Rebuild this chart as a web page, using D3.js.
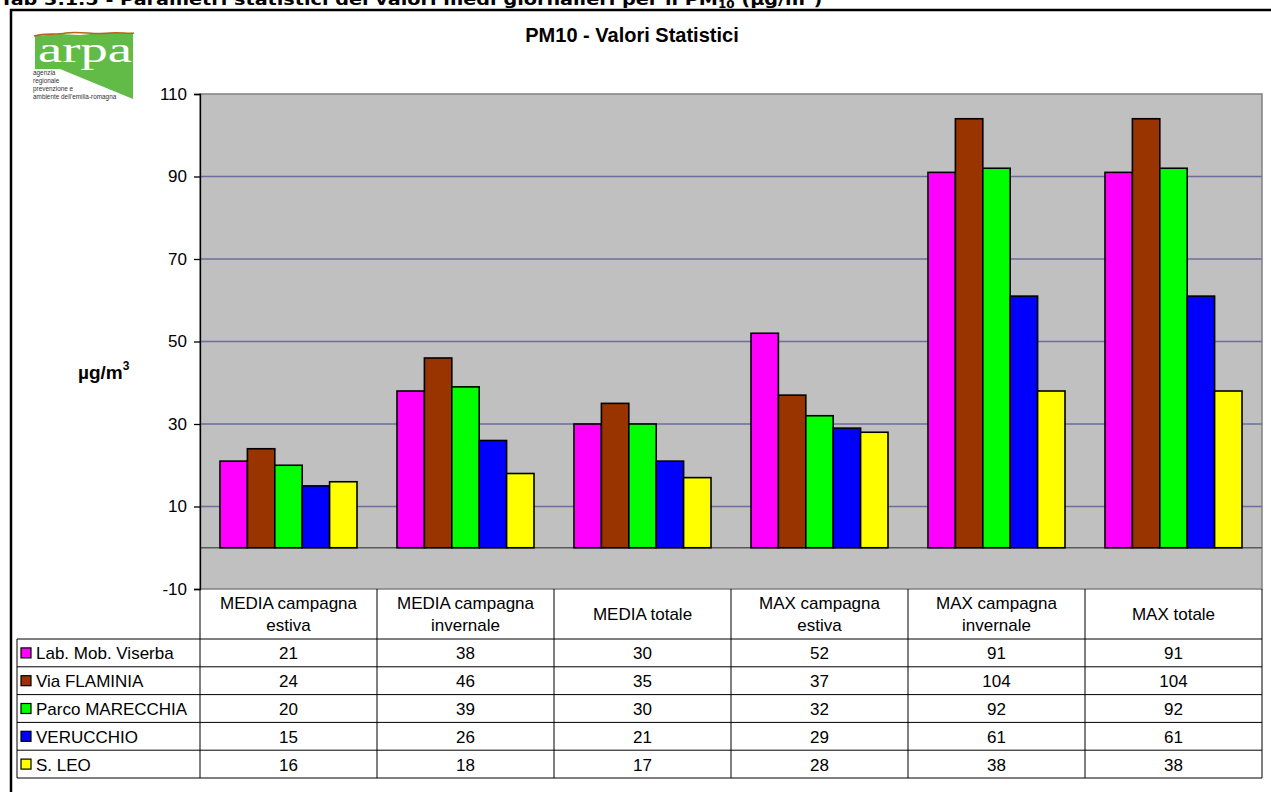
<!DOCTYPE html>
<html>
<head>
<meta charset="utf-8">
<script src="https://cdn.jsdelivr.net/npm/d3@7"></script>
<style>
  html, body { margin: 0; padding: 0; background: #fff; overflow: hidden; }
  svg { display: block; font-family: "Liberation Sans", Arial, sans-serif; }
</style>
</head>
<body>
<svg id="chart" width="1271" height="792"></svg>
<script>
// PM10 statistics per station (µg/m³)
const categories = [
  "MEDIA campagna estiva",
  "MEDIA campagna invernale",
  "MEDIA totale",
  "MAX campagna estiva",
  "MAX campagna invernale",
  "MAX totale"
];
const categoryLines = [
  ["MEDIA campagna", "estiva"],
  ["MEDIA campagna", "invernale"],
  ["MEDIA totale"],
  ["MAX campagna", "estiva"],
  ["MAX campagna", "invernale"],
  ["MAX totale"]
];
const seriesNames = ["Lab. Mob. Viserba", "Via FLAMINIA", "Parco MARECCHIA", "VERUCCHIO", "S. LEO"];
const viserba   = [21, 38, 30, 52, 91, 91];
const flaminia  = [24, 46, 35, 37, 104, 104];
const marecchia = [20, 39, 30, 32, 92, 92];
const verucchio = [15, 26, 21, 29, 61, 61];
const sanLeo    = [16, 18, 17, 28, 38, 38];
const seriesValues = [viserba, flaminia, marecchia, verucchio, sanLeo];
const seriesColors = ["#ff00ff", "#993300", "#00ff00", "#0000ff", "#ffff00"];
const yTicks = [-10, 10, 30, 50, 70, 90, 110];

const svg = d3.select("#chart");
const FS = 17;

// Page heading (partly above the visible area)
const head = svg.append("text")
  .attr("x", 0).attr("y", 5)
  .attr("font-family", "'DejaVu Sans', Verdana, sans-serif")
  .attr("font-weight", "bold").attr("font-size", 16).attr("fill", "#000");
head.append("tspan").text("Tab 3.1.5 - Parametri statistici dei valori medi giornalieri per il PM");
head.append("tspan").attr("font-size", 10).attr("dy", 3).text("10");
head.append("tspan").attr("dy", -3).text(" (µg/m");
head.append("tspan").attr("font-size", 10).attr("dy", -6).text("3");
head.append("tspan").attr("dy", 6).text(")");
const hw = head.node().getComputedTextLength();
head.attr("transform", `scale(${823 / hw},1)`);

// Frame of the chart object
svg.append("path")
  .attr("d", "M11,800 L11,10 L1280,10")
  .attr("fill", "none").attr("stroke", "#000").attr("stroke-width", 2.5);

// ARPA logo
const logo = svg.append("g");
logo.append("path")
  .attr("d", "M35,36 L60,34 L80,35 L100,33 L133,33 L133,99 L60,69 L35,69 Z")
  .attr("fill", "#62bb47");
logo.append("path")
  .attr("d", "M34,36 C45,33 55,35 66,33 C80,31 95,35 110,33 C120,32 128,34 134,33")
  .attr("fill", "none").attr("stroke", "#b5651d").attr("stroke-width", 1.6);
logo.append("text")
  .attr("x", 38).attr("y", 62)
  .attr("font-family", "'Liberation Serif', 'Times New Roman', serif")
  .attr("font-size", 36).attr("fill", "#fff")
  .attr("textLength", 94).attr("lengthAdjust", "spacingAndGlyphs")
  .text("arpa");
const logoLines = ["agenzia", "regionale", "prevenzione e", "ambiente dell'emilia-romagna"];
logo.selectAll("text.small").data(logoLines).join("text")
  .attr("class", "small")
  .attr("x", 33).attr("y", (d, i) => 75 + i * 8)
  .attr("font-size", 6.4).attr("fill", "#333")
  .text(d => d);

// Chart title
svg.append("text")
  .attr("x", 632).attr("y", 42)
  .attr("text-anchor", "middle")
  .attr("font-weight", "bold").attr("font-size", 20)
  .text("PM10 - Valori Statistici");

// Scales
const plot = { left: 200, right: 1262, top: 94, bottom: 589 };
const y = d3.scaleLinear().domain([-10, 110]).range([plot.bottom, plot.top]);
const x0 = d3.scaleBand().domain(categories).range([plot.left, plot.right]).padding(0);
const x1 = d3.scaleBand().domain(seriesNames).range([0, x0.bandwidth()])
  .paddingInner(0).paddingOuter(0.73);

// Plot area
svg.append("rect")
  .attr("x", plot.left).attr("y", plot.top)
  .attr("width", plot.right - plot.left).attr("height", plot.bottom - plot.top)
  .attr("fill", "#c0c0c0").attr("stroke", "#808080").attr("stroke-width", 1.5);

// Gridlines
svg.append("g").selectAll("line")
  .data(yTicks.filter(t => t > -10 && t < 110)).join("line")
  .attr("x1", plot.left).attr("x2", plot.right)
  .attr("y1", d => y(d)).attr("y2", d => y(d))
  .attr("stroke", "#6e6e9e").attr("stroke-width", 1.3);

// Zero line
svg.append("line")
  .attr("x1", plot.left).attr("x2", plot.right)
  .attr("y1", y(0)).attr("y2", y(0))
  .attr("stroke", "#5a5a5a").attr("stroke-width", 1.3);

// Bars
const groups = svg.append("g").selectAll("g")
  .data(seriesNames).join("g")
  .attr("fill", (d, i) => seriesColors[i]);
groups.selectAll("rect")
  .data((name, si) => categories.map((c, ci) => ({ c, name, v: seriesValues[si][ci] })))
  .join("rect")
  .attr("x", d => x0(d.c) + x1(d.name))
  .attr("width", x1.bandwidth())
  .attr("y", d => y(Math.max(0, d.v)))
  .attr("height", d => Math.abs(y(d.v) - y(0)))
  .attr("stroke", "#000").attr("stroke-width", 1.6);

// Y axis
const yAxis = d3.axisLeft(y).tickValues(yTicks).tickSize(6).tickPadding(7)
  .tickFormat(d => String(d));
const ya = svg.append("g").attr("transform", `translate(${plot.left},0)`).call(yAxis);
ya.select(".domain").attr("stroke", "#000").attr("stroke-width", 1.3);
ya.selectAll(".tick line").attr("stroke", "#000").attr("stroke-width", 1.3);
ya.selectAll(".tick text").attr("font-size", FS).attr("fill", "#000")
  .attr("font-family", "'Liberation Sans', Arial, sans-serif");

// Y axis title
const yt = svg.append("text")
  .attr("x", 78).attr("y", 379)
  .attr("font-weight", "bold").attr("font-size", 19);
yt.append("tspan").text("µg/m");
yt.append("tspan").attr("font-size", 12).attr("dy", -9).text("3");

// Data table
const rowTop = 639, rowH = 27.8, tableLeft = 17;
const table = svg.append("g");
const colEdges = categories.map(c => x0(c)).concat([plot.right]);

// Header (category names)
table.selectAll("text.cat").data(categories).join("text")
  .attr("class", "cat")
  .attr("text-anchor", "middle")
  .attr("font-size", FS)
  .each(function (d, i) {
    const lines = categoryLines[i];
    const t = d3.select(this);
    const mid = (plot.bottom + rowTop) / 2;
    lines.forEach((ln, k) => {
      t.append("tspan")
        .attr("x", x0(d) + x0.bandwidth() / 2)
        .attr("y", mid + 6 + (k - (lines.length - 1) / 2) * 22)
        .text(ln);
    });
  });

// Vertical column lines
table.selectAll("line.col").data(colEdges).join("line")
  .attr("class", "col")
  .attr("x1", d => d).attr("x2", d => d)
  .attr("y1", plot.bottom).attr("y2", rowTop + rowH * seriesNames.length)
  .attr("stroke", "#000").attr("stroke-width", 1);

// Left edge of the legend column
table.append("line")
  .attr("x1", tableLeft).attr("x2", tableLeft)
  .attr("y1", rowTop).attr("y2", rowTop + rowH * seriesNames.length)
  .attr("stroke", "#000").attr("stroke-width", 1);

// Horizontal row lines
table.selectAll("line.row").data(d3.range(seriesNames.length + 1)).join("line")
  .attr("class", "row")
  .attr("x1", tableLeft).attr("x2", plot.right)
  .attr("y1", i => rowTop + i * rowH).attr("y2", i => rowTop + i * rowH)
  .attr("stroke", "#000").attr("stroke-width", 1);

// Legend keys and names
const rows = table.selectAll("g.srow").data(seriesNames).join("g")
  .attr("class", "srow")
  .attr("transform", (d, i) => `translate(0,${rowTop + i * rowH})`);
rows.append("rect")
  .attr("x", 21).attr("y", rowH / 2 - 5)
  .attr("width", 10).attr("height", 10)
  .attr("fill", (d, i) => seriesColors[i])
  .attr("stroke", "#000").attr("stroke-width", 1.2);
rows.append("text")
  .attr("x", 36).attr("y", rowH / 2 + 6.5)
  .attr("font-size", FS)
  .text(d => d);

// Values
rows.selectAll("text.val")
  .data((name, si) => categories.map((c, ci) => ({ c, v: seriesValues[si][ci] })))
  .join("text")
  .attr("class", "val")
  .attr("text-anchor", "middle")
  .attr("font-size", FS)
  .attr("x", d => x0(d.c) + x0.bandwidth() / 2)
  .attr("y", rowH / 2 + 6.5)
  .text(d => d.v);
</script>
</body>
</html>
